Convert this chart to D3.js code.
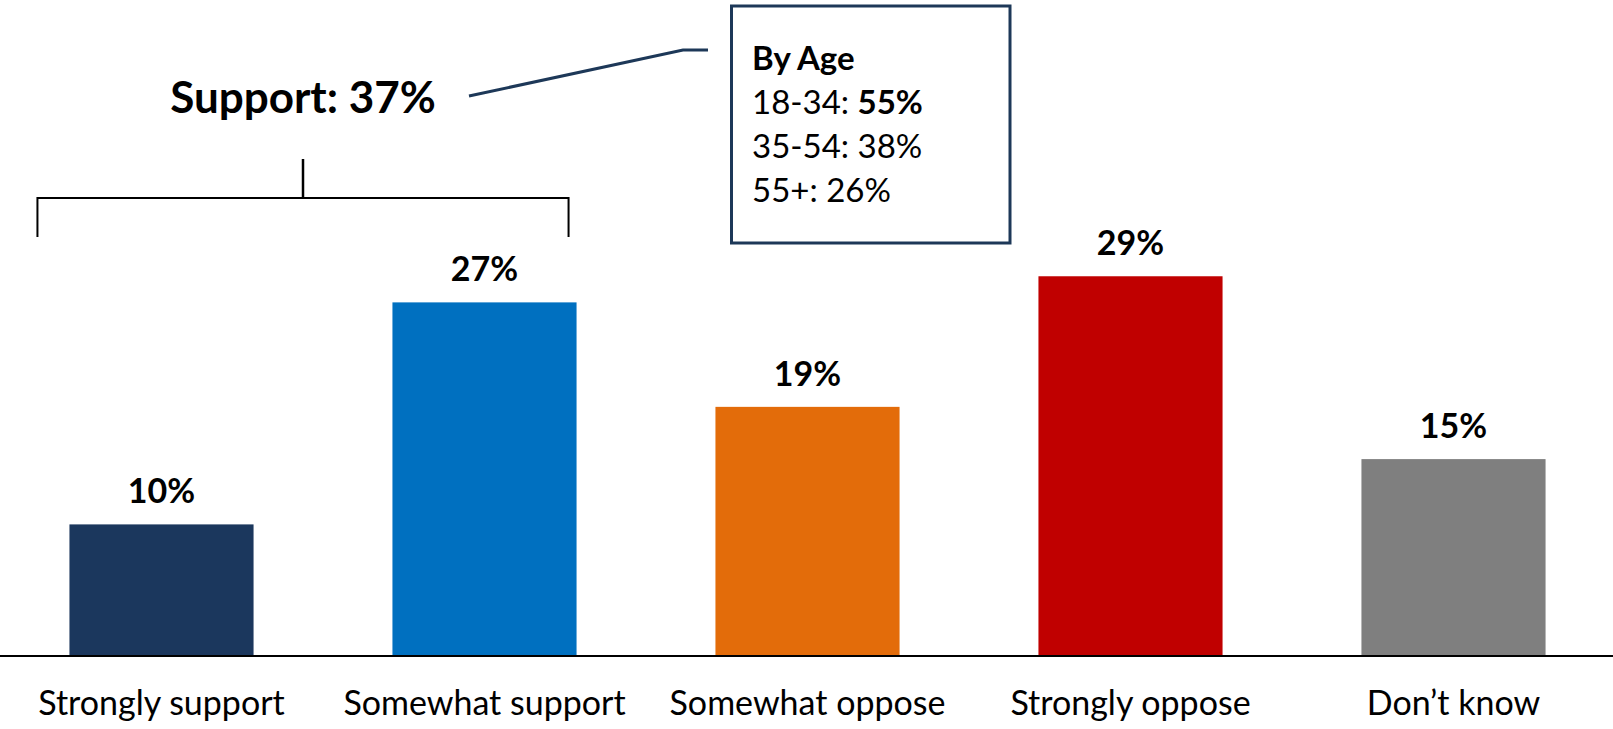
<!DOCTYPE html>
<html>
<head>
<meta charset="utf-8">
<script src="https://cdn.jsdelivr.net/npm/d3@7"></script>
<style>
  html, body { margin: 0; padding: 0; background: #fff; }
  svg { display: block; font-family: Lato, "Open Sans", sans-serif; }
</style>
</head>
<body>
<svg id="chart" width="1613" height="729"></svg>
<script>
const categories = ["Strongly support", "Somewhat support", "Somewhat oppose", "Strongly oppose", "Don\u2019t know"];
const values = [10, 27, 19, 29, 15];
const barColors = ["#1b375d", "#0070c0", "#e36c0a", "#c00000", "#7f7f7f"];
const supportLabel = "Support: 37%";
const ageTitle = "By Age";
const ageGroups = ["18-34: ", "35-54: ", "55+: "];
const ageValues = ["55%", "38%", "26%"];
const ageBold = [true, false, false];

const W = 1613, H = 729;
const svg = d3.select("#chart");

const x = d3.scaleBand().domain(categories).range([0, 1615]).paddingInner(0.43).paddingOuter(0.215);
const y = d3.scaleLinear().domain([0, 50]).range([655, 2]);

// bars
svg.append("g").selectAll("rect").data(values).join("rect")
  .attr("x", (d, i) => x(categories[i]))
  .attr("width", x.bandwidth())
  .attr("y", d => y(d))
  .attr("height", d => y(0) - y(d))
  .attr("fill", (d, i) => barColors[i]);

// value labels
svg.append("g").selectAll("text").data(values).join("text")
  .attr("x", (d, i) => x(categories[i]) + x.bandwidth() / 2)
  .attr("y", d => y(d) - 21)
  .attr("text-anchor", "middle")
  .attr("font-weight", "bold")
  .attr("font-size", 34)
  .attr("fill", "#000")
  .text(d => d + "%");

// x axis
const axis = d3.axisBottom(x).tickSize(0).tickPadding(0);
const gx = svg.append("g").attr("transform", `translate(0,${y(0)})`).call(axis);
gx.select(".domain").remove();
gx.selectAll("text")
  .attr("y", 60)
  .attr("dy", 0)
  .attr("font-size", 34)
  .attr("font-family", "Lato, sans-serif")
  .attr("fill", "#000");
svg.append("line")
  .attr("x1", 0).attr("x2", W)
  .attr("y1", y(0) + 1).attr("y2", y(0) + 1)
  .attr("stroke", "#000").attr("stroke-width", 2);

// bracket over the support bars
const bl = x(categories[0]) - 32;
const br = x(categories[1]) + x.bandwidth() - 8;
const bm = (bl + br) / 2;
const bTop = 198, bDrop = 237, stemTop = 159;
svg.append("path")
  .attr("d", `M${bl},${bDrop}V${bTop}H${br}V${bDrop}`)
  .attr("fill", "none").attr("stroke", "#000").attr("stroke-width", 2);
svg.append("line")
  .attr("x1", bm).attr("x2", bm).attr("y1", stemTop).attr("y2", bTop)
  .attr("stroke", "#000").attr("stroke-width", 2.5);

svg.append("text")
  .attr("x", bm).attr("y", 113)
  .attr("text-anchor", "middle")
  .attr("font-weight", "bold")
  .attr("font-size", 44)
  .attr("fill", "#000")
  .text(supportLabel);

// leader line
svg.append("path")
  .attr("d", "M469,96L683,50H708")
  .attr("fill", "none").attr("stroke", "#1d3858").attr("stroke-width", 3);

// by-age box
svg.append("rect")
  .attr("x", 731.5).attr("y", 6).attr("width", 278.5).attr("height", 237)
  .attr("fill", "#fff").attr("stroke", "#1d3858").attr("stroke-width", 3);

const tx = 752;
svg.append("text")
  .attr("x", tx).attr("y", 70)
  .attr("font-weight", "bold").attr("font-size", 33).attr("fill", "#000")
  .text(ageTitle);
const rowY = [114, 158, 202];
ageGroups.forEach((g, i) => {
  const t = svg.append("text")
    .attr("x", tx).attr("y", rowY[i])
    .attr("font-size", 33).attr("fill", "#000");
  t.append("tspan").text(g);
  t.append("tspan").attr("font-weight", ageBold[i] ? "bold" : "normal").text(ageValues[i]);
});
</script>
</body>
</html>
